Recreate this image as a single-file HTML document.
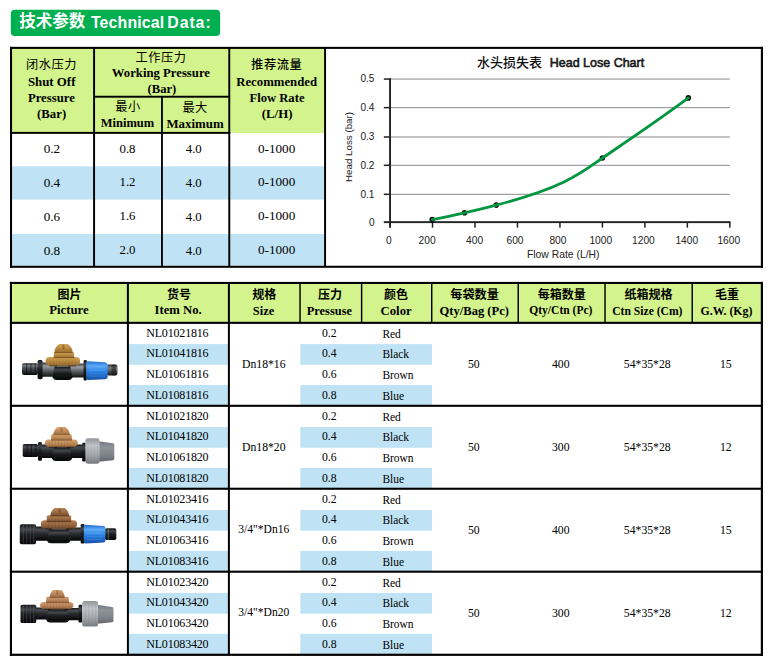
<!DOCTYPE html>
<html lang="zh"><head><meta charset="utf-8"><title>Technical Data</title>
<style>
html,body{margin:0;padding:0;background:#fff}
body{position:relative;width:772px;height:663px;overflow:hidden;font-family:"Liberation Serif",serif;color:#000}
#bg{position:absolute;left:0;top:0}
.t{position:absolute;white-space:nowrap;font-family:"Liberation Serif",serif;font-weight:400;margin:0;padding:0}
.s{font-family:"Liberation Sans",sans-serif}
.b{font-weight:700}
.m{-webkit-text-stroke:0.6px #1a1a1a}
.r{transform:rotate(-90deg);transform-origin:0 0}
.k{position:absolute;overflow:visible;color:#000;white-space:nowrap;line-height:1;font-family:"Liberation Sans","Noto Sans CJK SC",sans-serif;letter-spacing:0}
.c{position:absolute;overflow:visible}
</style></head><body>
<svg id="bg" width="772" height="663" viewBox="0 0 772 663">
<rect x="10.8" y="9.8" width="209.3" height="26.1" rx="4" ry="4" fill="#00b050"/>
<rect x="11" y="48" width="314" height="85" fill="#d3f48c"/>
<rect x="11" y="166.3" width="314" height="33.3" fill="#bfe3f4"/>
<rect x="11" y="234" width="314" height="31.5" fill="#bfe3f4"/>
<rect x="10" y="46.85" width="753" height="2.05" fill="#000"/>
<rect x="10" y="265.75" width="753" height="2.05" fill="#000"/>
<rect x="10" y="46.85" width="2.05" height="220.95" fill="#000"/>
<rect x="93.1" y="47" width="1.95" height="220" fill="#000"/>
<rect x="161.05" y="96" width="1.85" height="171" fill="#000"/>
<rect x="228.3" y="47" width="1.95" height="220" fill="#000"/>
<rect x="324.1" y="47" width="1.95" height="220" fill="#000"/>
<rect x="760.85" y="46.85" width="2.15" height="220.95" fill="#000"/>
<rect x="94" y="95.75" width="135" height="1.95" fill="#000"/>
<rect x="10" y="131.9" width="220.2" height="1.95" fill="#000"/>
<rect x="390.05" y="193.8" width="339.75" height="1" fill="#8a8a8a"/>
<rect x="390.05" y="164.8" width="339.75" height="1" fill="#8a8a8a"/>
<rect x="390.05" y="136.5" width="339.75" height="1" fill="#8a8a8a"/>
<rect x="390.05" y="107.15" width="339.75" height="1" fill="#8a8a8a"/>
<rect x="390.05" y="78.55" width="339.75" height="1" fill="#8a8a8a"/>
<rect x="389.1" y="78.25" width="1.9" height="149.55" fill="#222"/>
<rect x="383.8" y="221.2" width="346.7" height="1.9" fill="#222"/>
<rect x="383.8" y="193.55" width="6.25" height="1.5" fill="#222"/>
<rect x="383.8" y="164.55" width="6.25" height="1.5" fill="#222"/>
<rect x="383.8" y="136.25" width="6.25" height="1.5" fill="#222"/>
<rect x="383.8" y="106.9" width="6.25" height="1.5" fill="#222"/>
<rect x="383.8" y="78.3" width="6.25" height="1.5" fill="#222"/>
<rect x="431.77" y="222.15" width="1.5" height="5.5" fill="#222"/>
<rect x="474.24" y="222.15" width="1.5" height="5.5" fill="#222"/>
<rect x="516.71" y="222.15" width="1.5" height="5.5" fill="#222"/>
<rect x="559.18" y="222.15" width="1.5" height="5.5" fill="#222"/>
<rect x="601.65" y="222.15" width="1.5" height="5.5" fill="#222"/>
<rect x="644.12" y="222.15" width="1.5" height="5.5" fill="#222"/>
<rect x="686.59" y="222.15" width="1.5" height="5.5" fill="#222"/>
<rect x="729.06" y="222.15" width="1.5" height="5.5" fill="#222"/>
<circle cx="432.20" cy="219.60" r="2.8" fill="#111"/>
<circle cx="464.50" cy="212.80" r="2.8" fill="#111"/>
<circle cx="496.25" cy="205.10" r="2.8" fill="#111"/>
<circle cx="602.40" cy="158.00" r="2.8" fill="#111"/>
<circle cx="688.30" cy="97.90" r="2.8" fill="#111"/>
<path d="M432.2 219.6C442.99 217.44 453.77 215.22 464.50 212.80C475.12 210.41 485.71 207.84 496.25 205.10C565.93 186.98 581.92 172.34 602.4 158.0C631.30 138.35 660.34 118.87 688.30 97.90" fill="none" stroke="#00963f" stroke-width="2.8" stroke-linecap="round" stroke-linejoin="round"/>
<rect x="11" y="283" width="751" height="39.8" fill="#d3f48c"/>
<rect x="128" y="344.1" width="101" height="20.7" fill="#bfe3f4"/>
<rect x="300.3" y="344.1" width="131.7" height="20.7" fill="#bfe3f4"/>
<rect x="128" y="385" width="101" height="20.3" fill="#bfe3f4"/>
<rect x="300.3" y="385" width="131.7" height="20.3" fill="#bfe3f4"/>
<rect x="128" y="427.05" width="101" height="20.7" fill="#bfe3f4"/>
<rect x="300.3" y="427.05" width="131.7" height="20.7" fill="#bfe3f4"/>
<rect x="128" y="467.95" width="101" height="20.3" fill="#bfe3f4"/>
<rect x="300.3" y="467.95" width="131.7" height="20.3" fill="#bfe3f4"/>
<rect x="128" y="510" width="101" height="20.7" fill="#bfe3f4"/>
<rect x="300.3" y="510" width="131.7" height="20.7" fill="#bfe3f4"/>
<rect x="128" y="550.9" width="101" height="20.3" fill="#bfe3f4"/>
<rect x="300.3" y="550.9" width="131.7" height="20.3" fill="#bfe3f4"/>
<rect x="128" y="592.95" width="101" height="20.7" fill="#bfe3f4"/>
<rect x="300.3" y="592.95" width="131.7" height="20.7" fill="#bfe3f4"/>
<rect x="128" y="633.85" width="101" height="20.3" fill="#bfe3f4"/>
<rect x="300.3" y="633.85" width="131.7" height="20.3" fill="#bfe3f4"/>
<rect x="9.9" y="281.9" width="753.1" height="2.1" fill="#000"/>
<rect x="9.9" y="321.8" width="753.1" height="2.1" fill="#000"/>
<rect x="9.9" y="404.75" width="753.1" height="2.1" fill="#000"/>
<rect x="9.9" y="487.7" width="753.1" height="2.1" fill="#000"/>
<rect x="9.9" y="570.65" width="753.1" height="2.1" fill="#000"/>
<rect x="9.9" y="653.7" width="753.1" height="2.2" fill="#000"/>
<rect x="9.9" y="281.9" width="2.1" height="374" fill="#000"/>
<rect x="126.9" y="282" width="2" height="373" fill="#000"/>
<rect x="227.9" y="282" width="2" height="373" fill="#000"/>
<rect x="760.8" y="281.9" width="2.2" height="374" fill="#000"/>
<rect x="299.3" y="283" width="1.45" height="39.5" fill="#000"/>
<rect x="360.9" y="283" width="1.45" height="39.5" fill="#000"/>
<rect x="431" y="283" width="1.45" height="39.5" fill="#000"/>
<rect x="517.5" y="283" width="1.45" height="39.5" fill="#000"/>
<rect x="604.3" y="283" width="1.45" height="39.5" fill="#000"/>
<rect x="691.5" y="283" width="1.45" height="39.5" fill="#000"/>
<defs><linearGradient id="gK" x1="0" y1="0" x2="0" y2="1"><stop offset="0" stop-color="#26292c"/><stop offset="0.2" stop-color="#777c81"/><stop offset="0.42" stop-color="#4b4f54"/><stop offset="0.78" stop-color="#25272a"/><stop offset="1" stop-color="#0c0d0e"/></linearGradient><linearGradient id="gK2" x1="0" y1="0" x2="0" y2="1"><stop offset="0" stop-color="#141517"/><stop offset="0.25" stop-color="#43474c"/><stop offset="0.5" stop-color="#1c1e20"/><stop offset="1" stop-color="#050505"/></linearGradient><linearGradient id="gK1" x1="0" y1="0" x2="0" y2="1"><stop offset="0" stop-color="#34373a"/><stop offset="0.25" stop-color="#9ba0a5"/><stop offset="0.5" stop-color="#676b70"/><stop offset="0.8" stop-color="#303336"/><stop offset="1" stop-color="#121314"/></linearGradient><linearGradient id="gE" x1="0" y1="0" x2="0" y2="1"><stop offset="0" stop-color="#2c2f32"/><stop offset="0.3" stop-color="#7d8287"/><stop offset="0.6" stop-color="#4d5155"/><stop offset="1" stop-color="#1a1b1d"/></linearGradient><linearGradient id="gB" x1="0" y1="0" x2="0" y2="1"><stop offset="0" stop-color="#1f6ad0"/><stop offset="0.25" stop-color="#5aa9f6"/><stop offset="0.55" stop-color="#2b82e4"/><stop offset="1" stop-color="#1450a8"/></linearGradient><linearGradient id="gG" x1="0" y1="0" x2="0" y2="1"><stop offset="0" stop-color="#92979c"/><stop offset="0.28" stop-color="#c3c7cb"/><stop offset="0.65" stop-color="#a5a9ae"/><stop offset="1" stop-color="#777b81"/></linearGradient><linearGradient id="gG2" x1="0" y1="0" x2="0" y2="1"><stop offset="0" stop-color="#737880"/><stop offset="0.3" stop-color="#8e939a"/><stop offset="0.65" stop-color="#7f848b"/><stop offset="1" stop-color="#62666c"/></linearGradient><linearGradient id="gK3" x1="0" y1="0" x2="0" y2="1"><stop offset="0" stop-color="#17191b"/><stop offset="0.22" stop-color="#4b4f54"/><stop offset="0.45" stop-color="#2c2f32"/><stop offset="0.78" stop-color="#141517"/><stop offset="1" stop-color="#060606"/></linearGradient><linearGradient id="gT1" x1="0" y1="0" x2="0" y2="1"><stop offset="0" stop-color="#d3a559"/><stop offset="0.5" stop-color="#b98840"/><stop offset="1" stop-color="#94692c"/></linearGradient><linearGradient id="gT2" x1="0" y1="0" x2="0" y2="1"><stop offset="0" stop-color="#d8a470"/><stop offset="0.5" stop-color="#c08c59"/><stop offset="1" stop-color="#9b6b3f"/></linearGradient><linearGradient id="gT3" x1="0" y1="0" x2="0" y2="1"><stop offset="0" stop-color="#b58556"/><stop offset="0.5" stop-color="#9a6b43"/><stop offset="1" stop-color="#72472a"/></linearGradient><linearGradient id="gT4" x1="0" y1="0" x2="0" y2="1"><stop offset="0" stop-color="#d39f70"/><stop offset="0.5" stop-color="#bb865d"/><stop offset="1" stop-color="#95643f"/></linearGradient><filter id="soft" x="-5%" y="-10%" width="110%" height="120%"><feGaussianBlur stdDeviation="0.42"/></filter></defs>
<g filter="url(#soft)"><rect x="22.0" y="363.3" width="16.0" height="11.6" rx="1.8" fill="url(#gK)"/><rect x="26.17" y="363.3" width="1.0" height="11.6" fill="#000" opacity="0.5"/><rect x="30.50" y="363.3" width="1.0" height="11.6" fill="#000" opacity="0.5"/><rect x="34.83" y="363.3" width="1.0" height="11.6" fill="#000" opacity="0.5"/><rect x="42.0" y="362.6" width="15.0" height="14.2" rx="0.5" fill="url(#gK1)"/><rect x="68.0" y="363.4" width="17.0" height="14.0" rx="0.5" fill="url(#gK1)"/><path d="M54.6 366.5L70.4 366.5L72.4 377.5Q71.4 380.0 68.4 380.0L56.6 380.0Q53.6 380.0 52.6 377.5Z" fill="url(#gK2)"/><rect x="37.6" y="360.0" width="5.0" height="19.2" rx="1.6" fill="url(#gK2)"/><rect x="83.6" y="360.0" width="3.2" height="20.5" rx="1.2" fill="url(#gK2)"/><rect x="106.5" y="364.6" width="11.0" height="10.8" rx="1.8" fill="url(#gE)"/><rect x="111.5" y="364.6" width="4.5" height="10.8" rx="1" fill="#111" opacity="0.45"/><path d="M88 361.2L104.5 362.2Q107.7 362.6 107.7 365.5L107.7 376.4Q107.7 379 104.5 379.3L88 379.9Q86.3 379.9 86.3 378.2L86.3 362.9Q86.3 361.2 88 361.2Z" fill="url(#gB)"/><rect x="89.5" y="366.65" width="15.5" height="0.7" fill="#b7dcff" opacity="0.2"/><rect x="89.5" y="369.85" width="15.5" height="0.7" fill="#b7dcff" opacity="0.32"/><rect x="89.5" y="372.95" width="15.5" height="0.7" fill="#b7dcff" opacity="0.16"/><rect x="89.5" y="375.75" width="15.5" height="0.7" fill="#b7dcff" opacity="0.22"/><path d="M48.6 357.0L77.1 357.0Q80.1 357.5 80.1 361.4Q79.8 364.8 76.1 365.8L49.6 365.8Q45.9 364.8 45.6 361.4Q45.6 357.5 48.6 357.0Z" fill="url(#gT1)"/><rect x="49.88" y="358.5" width="0.6" height="6.8" fill="#5e3f14" opacity="0.22"/><rect x="53.05" y="358.5" width="0.6" height="6.8" fill="#5e3f14" opacity="0.22"/><rect x="56.22" y="358.5" width="0.6" height="6.8" fill="#5e3f14" opacity="0.22"/><rect x="59.38" y="358.5" width="0.6" height="6.8" fill="#5e3f14" opacity="0.22"/><rect x="62.55" y="358.5" width="0.6" height="6.8" fill="#5e3f14" opacity="0.22"/><rect x="65.72" y="358.5" width="0.6" height="6.8" fill="#5e3f14" opacity="0.22"/><rect x="68.88" y="358.5" width="0.6" height="6.8" fill="#5e3f14" opacity="0.22"/><rect x="72.05" y="358.5" width="0.6" height="6.8" fill="#5e3f14" opacity="0.22"/><rect x="75.22" y="358.5" width="0.6" height="6.8" fill="#5e3f14" opacity="0.22"/><rect x="49.6" y="365.4" width="26.5" height="1.1" fill="#1a0f06" opacity="0.55"/><path d="M53.6 358.1L53.9 353.0Q54.1 352.0 55.4 352.0L72.5 352.0Q73.8 352.0 74.0 353.0L74.3 358.1Z" fill="url(#gT1)"/><path d="M54.3 352.9Q54.6 347.0 59.2 344.0L67.6 344.0Q72.5 347.0 72.8 352.9Z" fill="url(#gT1)"/><rect x="62.5" y="344.6" width="1.8" height="4.6" fill="#5e3f14" opacity="0.45"/><rect x="53.6" y="357.3" width="20.7" height="0.9" fill="#5e3f14" opacity="0.5"/><rect x="54.3" y="352.1" width="18.5" height="0.8" fill="#5e3f14" opacity="0.42"/></g>
<g filter="url(#soft)"><rect x="22.7" y="444.0" width="15.5" height="13.0" rx="1.8" fill="url(#gK3)"/><rect x="26.67" y="444.0" width="1.0" height="13.0" fill="#000" opacity="0.5"/><rect x="31.00" y="444.0" width="1.0" height="13.0" fill="#000" opacity="0.5"/><rect x="35.33" y="444.0" width="1.0" height="13.0" fill="#000" opacity="0.5"/><rect x="41.0" y="444.6" width="16.0" height="13.4" rx="0.5" fill="url(#gK3)"/><rect x="67.0" y="444.6" width="16.6" height="13.4" rx="0.5" fill="url(#gK3)"/><path d="M54.0 447.2L70.0 447.2L72.0 458.5Q71.0 461.0 68.0 461.0L56.0 461.0Q53.0 461.0 52.0 458.5Z" fill="url(#gK2)"/><rect x="38.0" y="442.0" width="3.9" height="18.8" rx="1.4" fill="url(#gK2)"/><rect x="82.2" y="442.7" width="3.7" height="18.8" rx="1.2" fill="url(#gK2)"/><path d="M98.6 441.2L113 443.2Q114.3 443.4 114.3 445L114.3 458.4Q114.3 460 113 460.2L98.6 461.8Z" fill="url(#gG2)"/><rect x="85.4" y="438.3" width="14.2" height="25.4" rx="2.6" fill="url(#gG)"/><rect x="87.66" y="440.0" width="0.8" height="22.0" fill="#6e7277" opacity="0.25"/><rect x="90.79" y="440.0" width="0.8" height="22.0" fill="#6e7277" opacity="0.25"/><rect x="93.91" y="440.0" width="0.8" height="22.0" fill="#6e7277" opacity="0.25"/><rect x="97.04" y="440.0" width="0.8" height="22.0" fill="#6e7277" opacity="0.25"/><path d="M47.8 439.5L74.8 439.5Q77.8 440.0 77.8 443.2Q77.5 446.0 73.8 447.0L48.8 447.0Q45.1 446.0 44.8 443.2Q44.8 440.0 47.8 439.5Z" fill="url(#gT2)"/><rect x="49.00" y="441.0" width="0.6" height="5.5" fill="#6f4828" opacity="0.22"/><rect x="52.00" y="441.0" width="0.6" height="5.5" fill="#6f4828" opacity="0.22"/><rect x="55.00" y="441.0" width="0.6" height="5.5" fill="#6f4828" opacity="0.22"/><rect x="58.00" y="441.0" width="0.6" height="5.5" fill="#6f4828" opacity="0.22"/><rect x="61.00" y="441.0" width="0.6" height="5.5" fill="#6f4828" opacity="0.22"/><rect x="64.00" y="441.0" width="0.6" height="5.5" fill="#6f4828" opacity="0.22"/><rect x="67.00" y="441.0" width="0.6" height="5.5" fill="#6f4828" opacity="0.22"/><rect x="70.00" y="441.0" width="0.6" height="5.5" fill="#6f4828" opacity="0.22"/><rect x="73.00" y="441.0" width="0.6" height="5.5" fill="#6f4828" opacity="0.22"/><rect x="48.8" y="446.6" width="25.0" height="1.1" fill="#1a0f06" opacity="0.55"/><path d="M51.0 440.4L51.3 435.2Q51.5 434.2 52.8 434.2L70.2 434.2Q71.5 434.2 71.7 435.2L72.0 440.4Z" fill="url(#gT2)"/><path d="M53.2 435.1Q53.5 430.0 57.5 427.0L65.6 427.0Q69.6 430.0 69.9 435.1Z" fill="url(#gT2)"/><rect x="60.6" y="427.6" width="1.8" height="4.2" fill="#6f4828" opacity="0.45"/><rect x="51.0" y="439.6" width="21.0" height="0.9" fill="#6f4828" opacity="0.5"/><rect x="53.2" y="434.3" width="16.7" height="0.8" fill="#6f4828" opacity="0.42"/></g>
<g filter="url(#soft)"><rect x="19.8" y="524.3" width="16.2" height="20.0" rx="1.8" fill="url(#gK2)"/><rect x="22.65" y="524.0" width="1.2" height="19.5" fill="#6c7176" opacity="0.34"/><rect x="26.15" y="524.0" width="1.2" height="19.5" fill="#6c7176" opacity="0.34"/><rect x="29.65" y="524.0" width="1.2" height="19.5" fill="#6c7176" opacity="0.34"/><rect x="33.15" y="524.0" width="1.2" height="19.5" fill="#6c7176" opacity="0.34"/><rect x="35.5" y="526.6" width="16.5" height="14.2" rx="0.5" fill="url(#gK3)"/><rect x="66.0" y="527.4" width="15.5" height="13.4" rx="0.5" fill="url(#gK3)"/><path d="M49.0 529.2L68.5 529.2L70.5 540.7Q69.5 543.2 66.5 543.2L51.0 543.2Q48.0 543.2 47.0 540.7Z" fill="url(#gK2)"/><rect x="80.7" y="524.0" width="3.8" height="19.5" rx="1.2" fill="url(#gK2)"/><rect x="104.8" y="528.3" width="11.5" height="11.7" rx="1.8" fill="url(#gK2)"/><rect x="107.5" y="528.3" width="1.5" height="11.7" rx="0" fill="#8a9095" opacity="0.4"/><path d="M85.6 524.7L103.5 526Q105.4 526.2 105.4 528L105.4 540.5Q105.4 542.3 103.5 542.5L85.6 543.5Q83.8 543.5 83.8 541.5L83.8 526.7Q83.8 524.7 85.6 524.7Z" fill="url(#gB)"/><rect x="87" y="529.65" width="15.5" height="0.7" fill="#b7dcff" opacity="0.2"/><rect x="87" y="532.85" width="15.5" height="0.7" fill="#b7dcff" opacity="0.32"/><rect x="87" y="536.05" width="15.5" height="0.7" fill="#b7dcff" opacity="0.16"/><rect x="87" y="539.05" width="15.5" height="0.7" fill="#b7dcff" opacity="0.22"/><path d="M43.8 520.3L74.1 520.3Q77.1 520.8 77.1 524.5Q76.8 527.8 73.1 528.8L44.8 528.8Q41.1 527.8 40.8 524.5Q40.8 520.8 43.8 520.3Z" fill="url(#gT3)"/><rect x="45.18" y="521.8" width="0.6" height="6.5" fill="#42260f" opacity="0.22"/><rect x="48.55" y="521.8" width="0.6" height="6.5" fill="#42260f" opacity="0.22"/><rect x="51.92" y="521.8" width="0.6" height="6.5" fill="#42260f" opacity="0.22"/><rect x="55.28" y="521.8" width="0.6" height="6.5" fill="#42260f" opacity="0.22"/><rect x="58.65" y="521.8" width="0.6" height="6.5" fill="#42260f" opacity="0.22"/><rect x="62.02" y="521.8" width="0.6" height="6.5" fill="#42260f" opacity="0.22"/><rect x="65.38" y="521.8" width="0.6" height="6.5" fill="#42260f" opacity="0.22"/><rect x="68.75" y="521.8" width="0.6" height="6.5" fill="#42260f" opacity="0.22"/><rect x="72.12" y="521.8" width="0.6" height="6.5" fill="#42260f" opacity="0.22"/><rect x="44.8" y="528.4" width="28.3" height="1.1" fill="#1a0f06" opacity="0.55"/><path d="M46.6 522.1L46.9 516.2Q47.1 515.2 48.4 515.2L69.5 515.2Q70.8 515.2 71.0 516.2L71.3 522.1Z" fill="url(#gT3)"/><path d="M50.3 516.3Q50.6 511.0 54.5 508.0L64.9 508.0Q68.8 511.0 69.1 516.3Z" fill="url(#gT3)"/><rect x="58.8" y="508.6" width="1.8" height="4.3" fill="#42260f" opacity="0.45"/><rect x="46.6" y="521.3" width="24.7" height="0.9" fill="#42260f" opacity="0.5"/><rect x="50.3" y="515.5" width="18.8" height="0.8" fill="#42260f" opacity="0.42"/></g>
<g filter="url(#soft)"><rect x="20.5" y="604.8" width="15.7" height="18.1" rx="1.5" fill="url(#gK2)"/><rect x="22.65" y="604.8" width="1.2" height="18.1" fill="#6c7176" opacity="0.34"/><rect x="26.15" y="604.8" width="1.2" height="18.1" fill="#6c7176" opacity="0.34"/><rect x="29.65" y="604.8" width="1.2" height="18.1" fill="#6c7176" opacity="0.34"/><rect x="33.15" y="604.8" width="1.2" height="18.1" fill="#6c7176" opacity="0.34"/><rect x="35.5" y="607.4" width="15.5" height="12.2" rx="0.5" fill="url(#gK3)"/><rect x="64.5" y="608.0" width="15.5" height="12.2" rx="0.5" fill="url(#gK3)"/><path d="M48.2 609.2L67.2 609.2L69.2 620.1Q68.2 622.6 65.2 622.6L50.2 622.6Q47.2 622.6 46.2 620.1Z" fill="url(#gK2)"/><rect x="78.5" y="604.8" width="3.9" height="17.6" rx="1.2" fill="url(#gK2)"/><path d="M97 604.8L112 607Q113.5 607.2 113.5 608.8L113.5 620.4Q113.5 622 112 622.2L97 623.8Z" fill="url(#gG2)"/><rect x="82.2" y="601.1" width="15.9" height="25.4" rx="2.6" fill="url(#gG)"/><rect x="84.85" y="603.0" width="0.8" height="22.0" fill="#6e7277" opacity="0.25"/><rect x="88.35" y="603.0" width="0.8" height="22.0" fill="#6e7277" opacity="0.25"/><rect x="91.85" y="603.0" width="0.8" height="22.0" fill="#6e7277" opacity="0.25"/><rect x="95.35" y="603.0" width="0.8" height="22.0" fill="#6e7277" opacity="0.25"/><path d="M43.0 601.9L70.5 601.9Q73.5 602.4 73.5 605.5Q73.2 608.0 69.5 609.0L44.0 609.0Q40.3 608.0 40.0 605.5Q40.0 602.4 43.0 601.9Z" fill="url(#gT4)"/><rect x="44.23" y="603.4" width="0.6" height="5.1" fill="#6f4628" opacity="0.22"/><rect x="47.28" y="603.4" width="0.6" height="5.1" fill="#6f4628" opacity="0.22"/><rect x="50.34" y="603.4" width="0.6" height="5.1" fill="#6f4628" opacity="0.22"/><rect x="53.39" y="603.4" width="0.6" height="5.1" fill="#6f4628" opacity="0.22"/><rect x="56.45" y="603.4" width="0.6" height="5.1" fill="#6f4628" opacity="0.22"/><rect x="59.51" y="603.4" width="0.6" height="5.1" fill="#6f4628" opacity="0.22"/><rect x="62.56" y="603.4" width="0.6" height="5.1" fill="#6f4628" opacity="0.22"/><rect x="65.62" y="603.4" width="0.6" height="5.1" fill="#6f4628" opacity="0.22"/><rect x="68.67" y="603.4" width="0.6" height="5.1" fill="#6f4628" opacity="0.22"/><rect x="44.0" y="608.6" width="25.5" height="1.1" fill="#1a0f06" opacity="0.55"/><path d="M46.0 603.1L46.3 597.8Q46.5 596.8 47.8 596.8L67.2 596.8Q68.5 596.8 68.7 597.8L69.0 603.1Z" fill="url(#gT4)"/><path d="M49.5 597.9Q49.8 593.0 53.2 590.0L61.2 590.0Q64.5 593.0 64.8 597.9Z" fill="url(#gT4)"/><rect x="56.3" y="590.6" width="1.8" height="4.1" fill="#6f4628" opacity="0.45"/><rect x="46.0" y="602.3" width="23.0" height="0.9" fill="#6f4628" opacity="0.5"/><rect x="49.5" y="597.1" width="15.3" height="0.8" fill="#6f4628" opacity="0.42"/></g>
</svg>
<div class="k" style="left:19.20px;top:14.03px;width:66.20px;height:16.55px;font-size:16.55px;color:#fff;font-weight:700">技术参数</div>
<div class="t s b" style="left:90.90px;top:14px;font-size:15.85px;line-height:17px;color:#fff"><span style="letter-spacing:.18px">Technical</span> <span style="margin-left:-1.6px;letter-spacing:.95px">Data:</span></div>
<div class="k" style="left:26.00px;top:58.90px;width:51.00px;height:12.21px;font-size:12.21px;letter-spacing:0.54px">闭水压力</div>
<div class="t b" style="left:27.90px;top:75px;font-size:12.87px;line-height:14px">Shut Off</div>
<div class="t b" style="left:27.90px;top:91px;font-size:12.75px;line-height:14px">Pressure</div>
<div class="t b" style="left:37.10px;top:107px;font-size:12.78px;line-height:14px">(Bar)</div>
<div class="k" style="left:135.50px;top:51.50px;width:51.00px;height:12.21px;font-size:12.21px;letter-spacing:0.54px">工作压力</div>
<div class="t b" style="left:111.75px;top:66px;font-size:12.74px;line-height:14px">Working Pressure</div>
<div class="t b" style="left:147.50px;top:82px;font-size:12.63px;line-height:14px">(Bar)</div>
<div class="k" style="left:115.35px;top:100.90px;width:25.10px;height:12.19px;font-size:12.19px;letter-spacing:0.36px">最小</div>
<div class="t b" style="left:100.70px;top:116px;font-size:12.53px;line-height:14px">Minimum</div>
<div class="k" style="left:182.45px;top:101.60px;width:25.10px;height:12.19px;font-size:12.19px;letter-spacing:0.36px">最大</div>
<div class="t b" style="left:166.40px;top:117px;font-size:12.89px;line-height:14px">Maximum</div>
<div class="k" style="left:251.10px;top:58.97px;width:51.20px;height:12.26px;font-size:12.26px;letter-spacing:0.54px;font-weight:500">推荐流量</div>
<div class="t b" style="left:236.25px;top:75px;font-size:12.75px;line-height:14px">Recommended</div>
<div class="t b" style="left:249.50px;top:91px;font-size:12.61px;line-height:14px">Flow Rate</div>
<div class="t b" style="left:261.75px;top:107px;font-size:12.87px;line-height:14px">(L/H)</div>
<div class="t" style="left:43.70px;top:141px;font-size:13.20px;line-height:15px">0.2</div>
<div class="t" style="left:43.70px;top:175px;font-size:13.20px;line-height:15px">0.4</div>
<div class="t" style="left:43.70px;top:209px;font-size:13.20px;line-height:15px">0.6</div>
<div class="t" style="left:43.70px;top:243px;font-size:13.20px;line-height:15px">0.8</div>
<div class="t" style="left:119.50px;top:142px;font-size:12.80px;line-height:14px">0.8</div>
<div class="t" style="left:119.50px;top:175px;font-size:12.80px;line-height:14px">1.2</div>
<div class="t" style="left:119.50px;top:209px;font-size:12.80px;line-height:14px">1.6</div>
<div class="t" style="left:119.50px;top:243px;font-size:12.80px;line-height:14px">2.0</div>
<div class="t" style="left:185.75px;top:142px;font-size:12.80px;line-height:14px">4.0</div>
<div class="t" style="left:258.00px;top:141px;font-size:13.17px;line-height:15px">0-1000</div>
<div class="t" style="left:185.75px;top:176px;font-size:12.80px;line-height:14px">4.0</div>
<div class="t" style="left:258.00px;top:174px;font-size:13.17px;line-height:15px">0-1000</div>
<div class="t" style="left:185.75px;top:210px;font-size:12.80px;line-height:14px">4.0</div>
<div class="t" style="left:258.00px;top:208px;font-size:13.17px;line-height:15px">0-1000</div>
<div class="t" style="left:185.75px;top:244px;font-size:12.80px;line-height:14px">4.0</div>
<div class="t" style="left:258.00px;top:242px;font-size:13.17px;line-height:15px">0-1000</div>
<div class="k" style="left:477.00px;top:55.50px;width:65.00px;height:13.00px;font-size:13.00px;color:#111;font-weight:500">水头损失表</div>
<div class="t s m" style="left:549.80px;top:56px;font-size:12.49px;line-height:14px;color:#1a1a1a">Head Lose Chart</div>
<div class="t s" style="left:368.88px;top:217px;font-size:10.10px;line-height:11px;color:#222">0</div>
<div class="t s" style="left:360.46px;top:189px;font-size:10.10px;line-height:11px;color:#222">0.1</div>
<div class="t s" style="left:360.46px;top:160px;font-size:10.10px;line-height:11px;color:#222">0.2</div>
<div class="t s" style="left:360.46px;top:131px;font-size:10.10px;line-height:11px;color:#222">0.3</div>
<div class="t s" style="left:360.46px;top:102px;font-size:10.10px;line-height:11px;color:#222">0.4</div>
<div class="t s" style="left:360.46px;top:73px;font-size:10.10px;line-height:11px;color:#222">0.5</div>
<div class="t s" style="left:385.91px;top:235px;font-size:10.20px;line-height:11px;color:#222">0</div>
<div class="t s" style="left:418.59px;top:235px;font-size:10.20px;line-height:11px;color:#222">200</div>
<div class="t s" style="left:466.09px;top:235px;font-size:10.20px;line-height:11px;color:#222">400</div>
<div class="t s" style="left:506.49px;top:235px;font-size:10.20px;line-height:11px;color:#222">600</div>
<div class="t s" style="left:549.39px;top:235px;font-size:10.20px;line-height:11px;color:#222">800</div>
<div class="t s" style="left:589.40px;top:235px;font-size:10.20px;line-height:11px;color:#222">1000</div>
<div class="t s" style="left:632.05px;top:235px;font-size:10.20px;line-height:11px;color:#222">1200</div>
<div class="t s" style="left:675.40px;top:235px;font-size:10.20px;line-height:11px;color:#222">1400</div>
<div class="t s" style="left:717.40px;top:235px;font-size:10.20px;line-height:11px;color:#222">1600</div>
<div class="t s" style="left:527.00px;top:249px;font-size:10.35px;line-height:11px;color:#222">Flow Rate (L/H)</div>
<div class="t s r" style="left:348.9px;top:181.9px;font-size:9.78px;line-height:0;color:#222">Head Loss (bar)</div>
<div class="k" style="left:57.60px;top:289.45px;width:24.00px;height:12.00px;font-size:12.00px;font-weight:700">图片</div>
<div class="t b" style="left:49.25px;top:303px;font-size:12.78px;line-height:14px">Picture</div>
<div class="k" style="left:167.00px;top:289.45px;width:24.00px;height:12.00px;font-size:12.00px;font-weight:700">货号</div>
<div class="t b" style="left:154.50px;top:303px;font-size:12.70px;line-height:14px">Item No.</div>
<div class="k" style="left:252.30px;top:289.45px;width:24.00px;height:12.00px;font-size:12.00px;font-weight:700">规格</div>
<div class="t b" style="left:252.75px;top:304px;font-size:12.49px;line-height:14px">Size</div>
<div class="k" style="left:318.00px;top:289.45px;width:24.00px;height:12.00px;font-size:12.00px;font-weight:700">压力</div>
<div class="t b" style="left:306.75px;top:304px;font-size:12.40px;line-height:14px">Pressuse</div>
<div class="k" style="left:384.00px;top:289.45px;width:24.00px;height:12.00px;font-size:12.00px;font-weight:700">颜色</div>
<div class="t b" style="left:380.50px;top:304px;font-size:12.79px;line-height:14px">Color</div>
<div class="k" style="left:450.30px;top:289.36px;width:48.70px;height:12.17px;font-size:12.17px;font-weight:700">每袋数量</div>
<div class="t b" style="left:439.50px;top:304px;font-size:12.58px;line-height:14px">Qty/Bag (Pc)</div>
<div class="k" style="left:537.70px;top:289.43px;width:48.20px;height:12.05px;font-size:12.05px;font-weight:700">每箱数量</div>
<div class="t b" style="left:529.25px;top:305px;font-size:11.56px;line-height:12px">Qty/Ctn (Pc)</div>
<div class="k" style="left:624.40px;top:289.45px;width:48.00px;height:12.00px;font-size:12.00px;font-weight:700">纸箱规格</div>
<div class="t b" style="left:612.25px;top:305px;font-size:11.60px;line-height:13px">Ctn Size (Cm)</div>
<div class="k" style="left:715.00px;top:289.45px;width:24.00px;height:12.00px;font-size:12.00px;font-weight:700">毛重</div>
<div class="t b" style="left:700.50px;top:304px;font-size:11.87px;line-height:14px">G.W. (Kg)</div>
<div class="t" style="left:146.23px;top:326px;font-size:12.00px;line-height:14px;letter-spacing:-0.18px">NL01021816</div>
<div class="t" style="left:321.99px;top:327px;font-size:11.70px;line-height:13px">0.2</div>
<div class="t" style="left:382.40px;top:328px;font-size:11.45px;line-height:12px">Red</div>
<div class="t" style="left:146.23px;top:346px;font-size:12.00px;line-height:14px;letter-spacing:-0.18px">NL01041816</div>
<div class="t" style="left:321.99px;top:347px;font-size:11.70px;line-height:13px">0.4</div>
<div class="t" style="left:382.40px;top:348px;font-size:11.45px;line-height:12px">Black</div>
<div class="t" style="left:146.23px;top:367px;font-size:12.00px;line-height:14px;letter-spacing:-0.18px">NL01061816</div>
<div class="t" style="left:321.99px;top:368px;font-size:11.70px;line-height:13px">0.6</div>
<div class="t" style="left:382.40px;top:369px;font-size:11.45px;line-height:12px">Brown</div>
<div class="t" style="left:146.23px;top:388px;font-size:12.00px;line-height:14px;letter-spacing:-0.18px">NL01081816</div>
<div class="t" style="left:321.99px;top:389px;font-size:11.70px;line-height:13px">0.8</div>
<div class="t" style="left:382.40px;top:390px;font-size:11.45px;line-height:12px">Blue</div>
<div class="t" style="left:242.00px;top:358px;font-size:11.69px;line-height:13px">Dn18*16</div>
<div class="t" style="left:467.95px;top:358px;font-size:11.70px;line-height:13px">50</div>
<div class="t" style="left:551.98px;top:358px;font-size:11.70px;line-height:13px">400</div>
<div class="t" style="left:623.85px;top:358px;font-size:11.70px;line-height:13px">54*35*28</div>
<div class="t" style="left:719.95px;top:358px;font-size:11.70px;line-height:13px">15</div>
<div class="t" style="left:146.23px;top:409px;font-size:12.00px;line-height:14px;letter-spacing:-0.18px">NL01021820</div>
<div class="t" style="left:321.99px;top:410px;font-size:11.70px;line-height:13px">0.2</div>
<div class="t" style="left:382.40px;top:411px;font-size:11.45px;line-height:12px">Red</div>
<div class="t" style="left:146.23px;top:429px;font-size:12.00px;line-height:14px;letter-spacing:-0.18px">NL01041820</div>
<div class="t" style="left:321.99px;top:430px;font-size:11.70px;line-height:13px">0.4</div>
<div class="t" style="left:382.40px;top:431px;font-size:11.45px;line-height:12px">Black</div>
<div class="t" style="left:146.23px;top:450px;font-size:12.00px;line-height:14px;letter-spacing:-0.18px">NL01061820</div>
<div class="t" style="left:321.99px;top:451px;font-size:11.70px;line-height:13px">0.6</div>
<div class="t" style="left:382.40px;top:452px;font-size:11.45px;line-height:12px">Brown</div>
<div class="t" style="left:146.23px;top:471px;font-size:12.00px;line-height:14px;letter-spacing:-0.18px">NL01081820</div>
<div class="t" style="left:321.99px;top:472px;font-size:11.70px;line-height:13px">0.8</div>
<div class="t" style="left:382.40px;top:473px;font-size:11.45px;line-height:12px">Blue</div>
<div class="t" style="left:242.00px;top:441px;font-size:11.69px;line-height:13px">Dn18*20</div>
<div class="t" style="left:467.95px;top:441px;font-size:11.70px;line-height:13px">50</div>
<div class="t" style="left:551.98px;top:441px;font-size:11.70px;line-height:13px">300</div>
<div class="t" style="left:623.85px;top:441px;font-size:11.70px;line-height:13px">54*35*28</div>
<div class="t" style="left:719.95px;top:441px;font-size:11.70px;line-height:13px">12</div>
<div class="t" style="left:146.23px;top:492px;font-size:12.00px;line-height:14px;letter-spacing:-0.18px">NL01023416</div>
<div class="t" style="left:321.99px;top:493px;font-size:11.70px;line-height:13px">0.2</div>
<div class="t" style="left:382.40px;top:494px;font-size:11.45px;line-height:12px">Red</div>
<div class="t" style="left:146.23px;top:512px;font-size:12.00px;line-height:14px;letter-spacing:-0.18px">NL01043416</div>
<div class="t" style="left:321.99px;top:513px;font-size:11.70px;line-height:13px">0.4</div>
<div class="t" style="left:382.40px;top:514px;font-size:11.45px;line-height:12px">Black</div>
<div class="t" style="left:146.23px;top:533px;font-size:12.00px;line-height:14px;letter-spacing:-0.18px">NL01063416</div>
<div class="t" style="left:321.99px;top:534px;font-size:11.70px;line-height:13px">0.6</div>
<div class="t" style="left:382.40px;top:535px;font-size:11.45px;line-height:12px">Brown</div>
<div class="t" style="left:146.23px;top:554px;font-size:12.00px;line-height:14px;letter-spacing:-0.18px">NL01083416</div>
<div class="t" style="left:321.99px;top:555px;font-size:11.70px;line-height:13px">0.8</div>
<div class="t" style="left:382.40px;top:556px;font-size:11.45px;line-height:12px">Blue</div>
<div class="t" style="left:238.25px;top:524px;font-size:11.57px;line-height:12px">3/4&quot;*Dn16</div>
<div class="t" style="left:467.95px;top:524px;font-size:11.70px;line-height:13px">50</div>
<div class="t" style="left:551.98px;top:524px;font-size:11.70px;line-height:13px">400</div>
<div class="t" style="left:623.85px;top:524px;font-size:11.70px;line-height:13px">54*35*28</div>
<div class="t" style="left:719.95px;top:524px;font-size:11.70px;line-height:13px">15</div>
<div class="t" style="left:146.23px;top:575px;font-size:12.00px;line-height:14px;letter-spacing:-0.18px">NL01023420</div>
<div class="t" style="left:321.99px;top:576px;font-size:11.70px;line-height:13px">0.2</div>
<div class="t" style="left:382.40px;top:577px;font-size:11.45px;line-height:12px">Red</div>
<div class="t" style="left:146.23px;top:595px;font-size:12.00px;line-height:14px;letter-spacing:-0.18px">NL01043420</div>
<div class="t" style="left:321.99px;top:596px;font-size:11.70px;line-height:13px">0.4</div>
<div class="t" style="left:382.40px;top:597px;font-size:11.45px;line-height:12px">Black</div>
<div class="t" style="left:146.23px;top:616px;font-size:12.00px;line-height:14px;letter-spacing:-0.18px">NL01063420</div>
<div class="t" style="left:321.99px;top:617px;font-size:11.70px;line-height:13px">0.6</div>
<div class="t" style="left:382.40px;top:618px;font-size:11.45px;line-height:12px">Brown</div>
<div class="t" style="left:146.23px;top:637px;font-size:12.00px;line-height:14px;letter-spacing:-0.18px">NL01083420</div>
<div class="t" style="left:321.99px;top:638px;font-size:11.70px;line-height:13px">0.8</div>
<div class="t" style="left:382.40px;top:639px;font-size:11.45px;line-height:12px">Blue</div>
<div class="t" style="left:238.25px;top:607px;font-size:11.57px;line-height:12px">3/4&quot;*Dn20</div>
<div class="t" style="left:467.95px;top:607px;font-size:11.70px;line-height:13px">50</div>
<div class="t" style="left:551.98px;top:607px;font-size:11.70px;line-height:13px">300</div>
<div class="t" style="left:623.85px;top:607px;font-size:11.70px;line-height:13px">54*35*28</div>
<div class="t" style="left:719.95px;top:607px;font-size:11.70px;line-height:13px">12</div>
</body></html>
